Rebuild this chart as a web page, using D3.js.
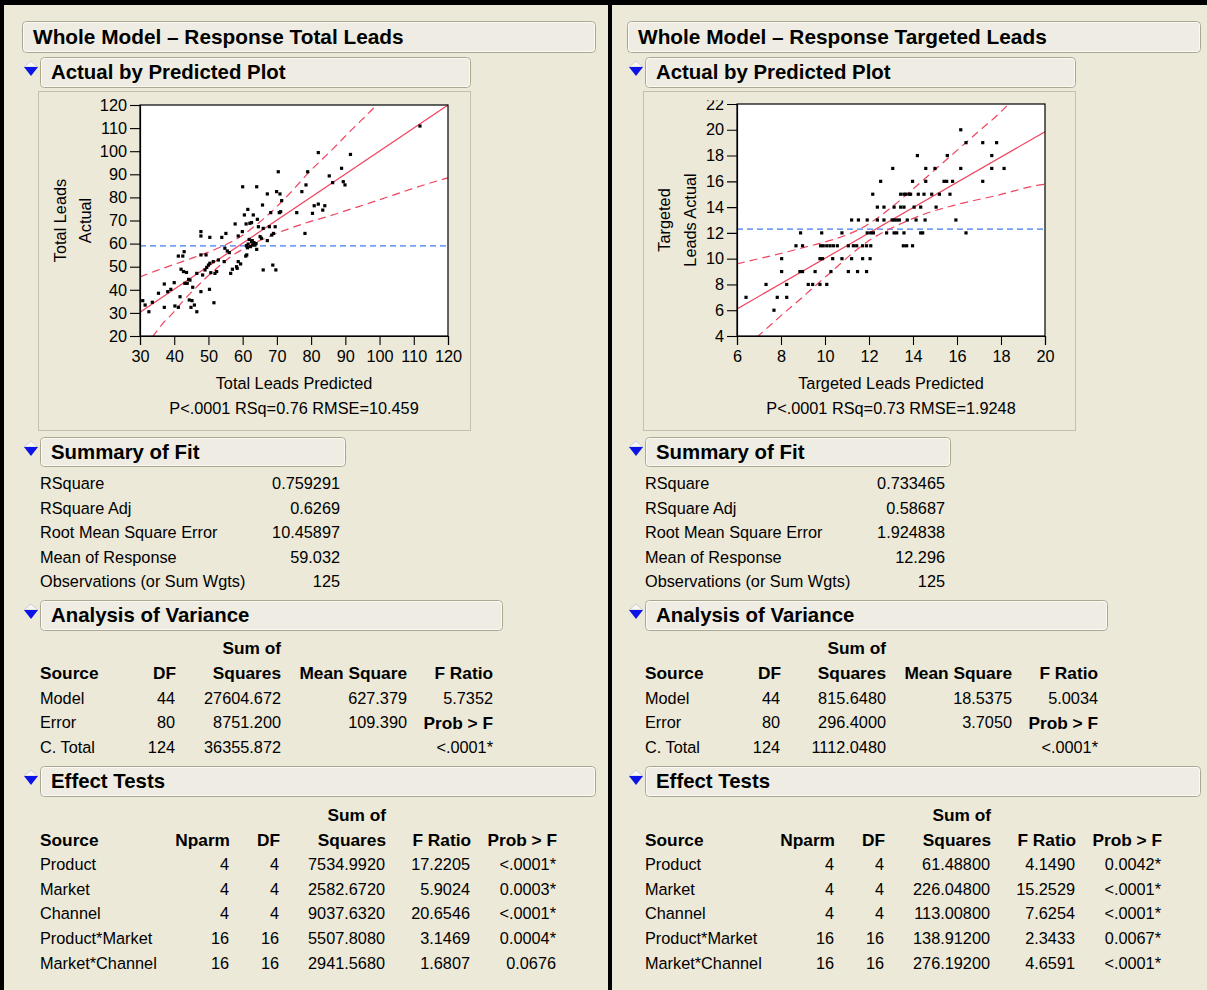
<!DOCTYPE html>
<html><head><meta charset="utf-8">
<script src="https://cdn.jsdelivr.net/npm/d3@7"></script>
<style>
html,body{margin:0;padding:0;background:#ECE9D8;}
svg{display:block;font-family:"Liberation Sans",Arial,Helvetica,sans-serif;}
</style></head><body>
<svg id="c" width="1207" height="990"></svg>
<script>
// ---------------- DATA ----------------
const titles = ["Whole Model \u2013 Response Total Leads", "Whole Model \u2013 Response Targeted Leads"];
const sectionNames = ["Actual by Predicted Plot", "Summary of Fit", "Analysis of Variance", "Effect Tests"];

// Left plot: Total Leads (predicted, actual)
const totalXTicks = [30,40,50,60,70,80,90,100,110,120];
const totalYTicks = [20,30,40,50,60,70,80,90,100,110,120];
const totalLeadsPoints = [
[30.8,35.3],[31.5,33.4],[32.6,30.5],[33.6,34.6],[35.4,38.5],[37.1,42.5],[37.1,32.4],[38.1,39.2],[39.0,40.2],[40.0,43.1],
[40.2,33.0],[41.2,32.4],[41.2,54.6],[41.7,37.0],[42.0,48.9],[42.5,54.6],[42.7,47.9],[42.9,56.5],[43.1,42.8],[43.6,47.5],
[43.8,42.8],[44.2,44.5],[44.4,35.6],[44.6,44.2],[45.2,35.3],[44.9,32.4],[45.4,41.1],[45.9,33.4],[46.6,30.5],[46.6,47.1],
[47.8,65.2],[47.8,63.3],[47.8,55.1],[47.8,39.2],[48.3,46.4],[49.0,48.6],[49.3,55.1],[49.5,49.7],[50.0,50.7],[50.3,40.2],
[50.4,51.5],[50.4,62.7],[50.7,47.4],[51.4,52.2],[51.6,34.4],[51.9,47.1],[52.4,47.9],[52.9,52.9],[53.9,62.7],[54.6,52.2],
[54.8,58.0],[55.1,64.4],[55.5,56.8],[56.1,56.1],[56.5,47.1],[57.0,48.9],[57.8,68.5],[58.2,50.0],[58.4,49.3],[58.7,63.3],
[58.7,52.2],[59.4,51.2],[59.9,65.2],[60.0,84.6],[60.5,72.4],[60.9,54.6],[61.0,68.5],[61.2,55.1],[61.5,74.8],[61.6,59.8],
[61.9,61.8],[62.1,68.8],[62.3,58.7],[62.6,60.8],[62.6,69.1],[62.9,59.4],[63.1,72.4],[63.3,60.4],[63.6,59.4],[64.1,57.5],
[64.1,84.6],[64.3,70.5],[64.6,67.3],[65.1,63.0],[65.5,62.3],[65.8,76.7],[66.0,48.6],[66.0,66.6],[67.2,61.3],[67.2,81.5],
[67.8,67.3],[68.2,73.4],[68.5,63.7],[68.8,50.7],[69.0,64.4],[69.5,67.3],[69.7,48.6],[69.9,82.5],[70.4,91.1],[70.7,73.4],
[70.9,81.5],[71.1,73.8],[71.4,78.6],[75.8,73.4],[77.3,82.5],[78.2,64.4],[78.5,85.4],[79.0,91.1],[80.4,73.1],[80.9,76.4],
[82.1,77.1],[82.1,99.4],[83.4,74.5],[84.0,76.4],[85.3,89.3],[86.3,86.4],[88.9,92.6],[89.4,86.8],[89.9,85.4],[91.5,98.6],
[111.8,110.9],[61.1,59.1],[62.8,61.3],[63.9,60.0],[61.4,58.2]
];
const totalFit = [[30,30.3],[120,120]];
const totalMean = 59.032;
const totalUpperCI = [[30,45.6],[35,48.4],[40,51.0],[45,53.6],[50,56.3],[54,58.8],[57,61.0],[60,63.6],[63,67.0],[66,70.6],[69,74.6],[73.8,81.8],[79.2,90.6],[86.5,101.2],[91.8,109.2],[98.2,118.6],[99.4,120.5]];
const totalLowerCI = [[33.6,19.5],[36.6,25.3],[39.3,29.5],[43,35.8],[46.6,41.3],[49,44.8],[52,48.8],[55,52.6],[58,55.8],[61,58.3],[64,60.6],[67,62.6],[69,63.9],[73.8,66.6],[79.7,69.5],[85.5,72.0],[91.3,74.8],[97.2,77.6],[104,81.0],[110,84.0],[120,88.5]];

// Right plot: Targeted Leads (predicted, actual)
const targXTicks = [6,8,10,12,14,16,18,20];
const targYTicks = [4,6,8,10,12,14,16,18,20,22];
const targetedLeadsPoints = [
[16.17,20],
[16.41,19],[17.17,19],[17.8,19],
[14.2,18],[15.56,18],[17.58,18],
[13.08,17],[14.58,17],[15.0,17],[16.17,17],[17.58,17],[18.14,17],
[12.53,16],[13.98,16],[14.58,16],[15.41,16],[15.53,16],[15.8,16],[17.17,16],
[12.17,15],[13.44,15],[13.59,15],[13.68,15],[13.83,15],[13.89,15],[14.24,15],[14.5,15],[14.85,15],[15.2,15],[15.68,15],
[12.38,14],[12.68,14],[13.14,14],[13.44,14],[13.59,14],[14.05,14],[14.35,14],[15.05,14],
[11.21,13],[11.52,13],[11.92,13],[12.38,13],[12.68,13],[13.14,13],[13.26,13],[13.38,13],[13.74,13],[14.14,13],[14.55,13],[15.95,13],[13.05,13],
[8.89,12],[9.85,12],[10.77,12],[11.92,12],[12.08,12],[12.2,12],[12.8,12],[13.14,12],[13.26,12],[13.59,12],[14.35,12],[14.44,12],[16.41,12],
[8.68,11],[8.98,11],[9.8,11],[9.92,11],[10.08,11],[10.23,11],[10.38,11],[10.56,11],[11.06,11],[11.29,11],[11.44,11],[11.71,11],[11.89,11],[12.08,11],[13.56,11],[13.71,11],[13.98,11],
[8.03,10],[9.77,10],[9.89,10],[10.35,10],[10.77,10],[11.21,10],[11.71,10],[12.05,10],
[8.03,9],[8.86,9],[8.98,9],[9.55,9],[10.27,9],[11.06,9],[11.48,9],[11.89,9],
[7.32,8],[8.26,8],[9.24,8],[9.44,8],[9.77,8],[10.08,8],
[6.41,7],[7.83,7],[8.26,7],
[7.68,6]
];
const targFit = [[6,6.1],[20,19.85]];
const targMean = 12.296;
const targUpperCI = [[6,9.6],[7,10.0],[8.1,10.45],[9,10.85],[10,11.3],[11,11.85],[11.8,12.5],[12.5,13.3],[13,13.95],[14,15.4],[15,16.9],[16,18.4],[17,19.9],[18,21.4],[18.4,22.1]];
const targLowerCI = [[6.9,3.9],[7.95,5.5],[9,7.05],[9.6,7.96],[10.5,9.3],[11.3,10.5],[12,11.4],[12.7,12.1],[13.5,12.75],[14.5,13.45],[16,14.2],[17.8,14.9],[19.77,15.72],[20.1,15.8]];

const axisTitles = [
  {x:"Total Leads Predicted", y:["Total Leads","Actual"], stat:"P<.0001 RSq=0.76 RMSE=10.459"},
  {x:"Targeted Leads Predicted", y:["Targeted","Leads Actual"], stat:"P<.0001 RSq=0.73 RMSE=1.9248"}
];

const summaryLabels = ["RSquare","RSquare Adj","Root Mean Square Error","Mean of Response","Observations (or Sum Wgts)"];
const summaryTotal = ["0.759291","0.6269","10.45897","59.032","125"];
const summaryTargeted = ["0.733465","0.58687","1.924838","12.296","125"];

const anovaHeaders = ["Source","DF","Squares","Mean Square","F Ratio"];
const anovaSources = ["Model","Error","C. Total"];
const anovaTotal = [
  ["44","27604.672","627.379","5.7352"],
  ["80","8751.200","109.390","Prob > F"],
  ["124","36355.872","","<.0001*"]
];
const anovaTargeted = [
  ["44","815.6480","18.5375","5.0034"],
  ["80","296.4000","3.7050","Prob > F"],
  ["124","1112.0480","","<.0001*"]
];

const effectHeaders = ["Source","Nparm","DF","Squares","F Ratio","Prob > F"];
const effectSources = ["Product","Market","Channel","Product*Market","Market*Channel"];
const effectTotal = [
  ["4","4","7534.9920","17.2205","<.0001*"],
  ["4","4","2582.6720","5.9024","0.0003*"],
  ["4","4","9037.6320","20.6546","<.0001*"],
  ["16","16","5507.8080","3.1469","0.0004*"],
  ["16","16","2941.5680","1.6807","0.0676"]
];
const effectTargeted = [
  ["4","4","61.48800","4.1490","0.0042*"],
  ["4","4","226.04800","15.2529","<.0001*"],
  ["4","4","113.00800","7.6254","<.0001*"],
  ["16","16","138.91200","2.3433","0.0067*"],
  ["16","16","276.19200","4.6591","<.0001*"]
];

// ---------------- DRAW ----------------
const svg = d3.select("#c");
const RED = "#f0445f", BLUE = "#3f7bf0";
const BG = "#ECE9D8";

svg.append("rect").attr("width",1207).attr("height",990).attr("fill",BG);

const panels = [
  {ox:0, title:titles[0], plot:{l:140,r:448,t:105,b:336}, xd:[30,120], yd:[20,120], xt:totalXTicks, yt:totalYTicks,
   pts:totalLeadsPoints, fit:totalFit, mean:totalMean, up:totalUpperCI, lo:totalLowerCI, ax:axisTitles[0],
   ytx:[66,91], summ:summaryTotal, anova:anovaTotal, eff:effectTotal, clipTop:95},
  {ox:605, title:titles[1], plot:{l:737,r:1045,t:104,b:336}, xd:[6,20], yd:[4,22], xt:targXTicks, yt:targYTicks,
   pts:targetedLeadsPoints, fit:targFit, mean:targMean, up:targUpperCI, lo:targLowerCI, ax:axisTitles[1],
   ytx:[670,696], summ:summaryTargeted, anova:anovaTargeted, eff:effectTargeted, clipTop:100.5}
];

function box(g, x0, y0, x1, y1){
  g.append("rect").attr("x",x0+0.5).attr("y",y0+0.5).attr("width",x1-x0).attr("height",y1-y0)
    .attr("rx",4).attr("fill","#EFEDE3").attr("stroke","#A9A692").attr("stroke-width",1);
  g.append("rect").attr("x",x0+1.5).attr("y",y0+1.5).attr("width",x1-x0-2).attr("height",y1-y0-2)
    .attr("rx",3).attr("fill","none").attr("stroke","#fbfaf5").attr("stroke-width",1);
}
function header(g, x0, y0, x1, y1, t, size){
  box(g,x0,y0,x1,y1);
  g.append("text").attr("x",x0+11).attr("y",(y0+y1)/2+7.2).attr("font-size",size).attr("font-weight","bold")
    .attr("fill","#000").text(t);
}
function disclosure(g, x, cy){
  g.append("path").attr("d",`M${x},${cy-5} L${x+7},${cy-11} L${x+14},${cy-5} Z`)
    .attr("fill","#f7f7f7").attr("stroke","#c4c4c4").attr("stroke-width",0.8);
  g.append("path").attr("d",`M${x},${cy-5} L${x+14},${cy-5} L${x+7},${cy+4} Z`).attr("fill","#0a14e6");
}
function txt(g, x, y, s, anchor, bold, size){
  return g.append("text").attr("x",x).attr("y",y).attr("text-anchor",anchor||"start")
    .attr("font-size",size||(bold?17.3:16.3)).attr("font-weight",bold?"bold":"normal").attr("fill","#000").text(s);
}

panels.forEach((P,pi)=>{
  const ox = P.ox;
  const g = svg.append("g");

  header(g, 22+ox, 21, 595+ox, 52, P.title, 20.8);
  disclosure(g, 24+ox, 72);
  header(g, 40+ox, 57, 470+ox, 87, sectionNames[0], 20.4);

  g.append("rect").attr("x",38.5+ox).attr("y",91.5).attr("width",432).attr("height",339)
    .attr("fill","none").attr("stroke","#C4C0AC").attr("stroke-width",1);

  const pl = P.plot;
  const x = d3.scaleLinear().domain(P.xd).range([pl.l,pl.r]);
  const y = d3.scaleLinear().domain(P.yd).range([pl.b,pl.t]);

  const clipId = "clipPlot"+pi;
  svg.append("clipPath").attr("id",clipId).append("rect")
    .attr("x",pl.l).attr("y",pl.t).attr("width",pl.r-pl.l).attr("height",pl.b-pl.t);
  const clipT = "clipTxt"+pi;
  svg.append("clipPath").attr("id",clipT).append("rect")
    .attr("x",38+ox).attr("y",P.clipTop).attr("width",432).attr("height",430-P.clipTop);

  g.append("rect").attr("x",pl.l).attr("y",pl.t).attr("width",pl.r-pl.l).attr("height",pl.b-pl.t).attr("fill","#fff");

  const pg = g.append("g").attr("clip-path",`url(#${clipId})`);
  pg.append("line").attr("x1",pl.l).attr("x2",pl.r).attr("y1",y(P.mean)).attr("y2",y(P.mean))
    .attr("stroke",BLUE).attr("stroke-width",1.3).attr("stroke-dasharray","6,4");
  const line = d3.line().x(d=>x(d[0])).y(d=>y(d[1])).curve(d3.curveMonotoneX);
  [P.up,P.lo].forEach(c=>{
    pg.append("path").attr("d",line(c)).attr("fill","none").attr("stroke",RED)
      .attr("stroke-width",1.2).attr("stroke-dasharray","8,5");
  });
  pg.append("path").attr("d",d3.line().x(d=>x(d[0])).y(d=>y(d[1]))(P.fit)).attr("fill","none")
    .attr("stroke",RED).attr("stroke-width",1.2);
  pg.selectAll("rect.pt").data(P.pts).join("rect").attr("class","pt")
    .attr("x",d=>x(d[0])-1.6).attr("y",d=>y(d[1])-1.6).attr("width",3.2).attr("height",3.2).attr("fill","#000");

  g.append("rect").attr("x",pl.l).attr("y",pl.t).attr("width",pl.r-pl.l).attr("height",pl.b-pl.t)
    .attr("fill","none").attr("stroke","#000").attr("stroke-width",1.2);

  const axG = g.append("g").attr("clip-path",`url(#${clipT})`);
  const yAx = axG.append("g").attr("transform",`translate(${pl.l},0)`)
    .call(d3.axisLeft(y).tickValues(P.yt).tickSize(10).tickPadding(3).tickFormat(d3.format("d")));
  const xAx = axG.append("g").attr("transform",`translate(0,${pl.b})`)
    .call(d3.axisBottom(x).tickValues(P.xt).tickSize(9).tickPadding(5).tickFormat(d3.format("d")));
  [yAx,xAx].forEach(a=>{
    a.select(".domain").attr("stroke","#000").attr("stroke-width",1.2);
    a.selectAll(".tick line").attr("stroke","#000").attr("stroke-width",1.1);
    a.selectAll(".tick text").attr("font-size",16.3).attr("fill","#000")
      .attr("font-family",'"Liberation Sans",Arial,sans-serif');
  });

  const cx = (pl.l+pl.r)/2;
  txt(g, cx, 389, P.ax.x, "middle", false, 16.3);
  txt(g, cx, 414, P.ax.stat, "middle", false, 16.3);
  const cy = (pl.t+pl.b)/2;
  P.ax.y.forEach((s,i)=>{
    g.append("text").attr("transform",`translate(${P.ytx[i]},${cy}) rotate(-90)`)
      .attr("text-anchor","middle").attr("font-size",16.3).attr("fill","#000").text(s);
  });

  disclosure(g, 24+ox, 452);
  header(g, 40+ox, 437, 345+ox, 466, sectionNames[1], 20.4);
  const sy = [489,514,538,563,587];
  summaryLabels.forEach((s,i)=>{
    txt(g, 40+ox, sy[i], s);
    txt(g, 340+ox, sy[i], P.summ[i], "end");
  });

  disclosure(g, 24+ox, 615);
  header(g, 40+ox, 600, 502+ox, 630, sectionNames[2], 20.4);
  const aCols = [175,281,407,493];
  txt(g, 281+ox, 654, "Sum of", "end", true);
  txt(g, 40+ox, 679, anovaHeaders[0], "start", true);
  anovaHeaders.slice(1).forEach((h,i)=>txt(g, aCols[i]+ox+(i==0?1:0), 679, h, "end", true));
  const ay = [704,728,753];
  anovaSources.forEach((s,r)=>{
    txt(g, 40+ox, ay[r], s);
    P.anova[r].forEach((v,c)=>{
      if(v==="") return;
      const bold = v==="Prob > F";
      txt(g, aCols[c]+ox, ay[r]+(bold?1:0), v, "end", bold);
    });
  });

  disclosure(g, 24+ox, 781);
  header(g, 40+ox, 766, 595+ox, 796, sectionNames[3], 20.4);
  const eCols = [230,280,386,471,557];
  txt(g, 386+ox, 821, "Sum of", "end", true);
  txt(g, 40+ox, 846, effectHeaders[0], "start", true);
  effectHeaders.slice(1).forEach((h,i)=>txt(g, eCols[i]+ox, 846, h, "end", true));
  const ey = [870,895,919,944,969];
  effectSources.forEach((s,r)=>{
    txt(g, 40+ox, ey[r], s);
    P.eff[r].forEach((v,c)=>txt(g, eCols[c]+ox-1, ey[r], v, "end"));
  });
});

svg.append("rect").attr("x",0).attr("y",0).attr("width",1207).attr("height",5).attr("fill","#000");
svg.append("rect").attr("x",0).attr("y",0).attr("width",4).attr("height",990).attr("fill","#000");
svg.append("rect").attr("x",608).attr("y",0).attr("width",4).attr("height",990).attr("fill","#000");
</script></body></html>
